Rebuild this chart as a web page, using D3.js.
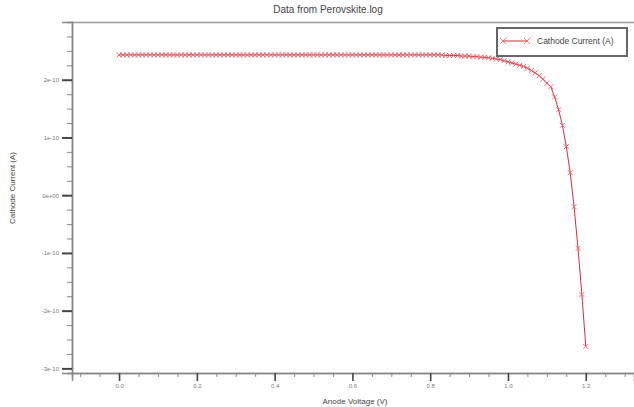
<!DOCTYPE html>
<html>
<head>
<meta charset="utf-8">
<script src="https://cdn.jsdelivr.net/npm/d3@7"></script>
<style>
  body { margin: 0; background: #fff; }
  svg { display: block; font-family: "Liberation Sans Narrow", "Liberation Sans", Arial, sans-serif; }
  .tick-label { fill: #777; font-size: 6px; }
  .label { fill: #444; }
</style>
</head>
<body>
<svg></svg>
<script>
//anode voltage sweep (V)
var voltages = [
  0.00, 0.01, 0.02, 0.03, 0.04, 0.05, 0.06, 0.07, 0.08, 0.09,
  0.10, 0.11, 0.12, 0.13, 0.14, 0.15, 0.16, 0.17, 0.18, 0.19,
  0.20, 0.21, 0.22, 0.23, 0.24, 0.25, 0.26, 0.27, 0.28, 0.29,
  0.30, 0.31, 0.32, 0.33, 0.34, 0.35, 0.36, 0.37, 0.38, 0.39,
  0.40, 0.41, 0.42, 0.43, 0.44, 0.45, 0.46, 0.47, 0.48, 0.49,
  0.50, 0.51, 0.52, 0.53, 0.54, 0.55, 0.56, 0.57, 0.58, 0.59,
  0.60, 0.61, 0.62, 0.63, 0.64, 0.65, 0.66, 0.67, 0.68, 0.69,
  0.70, 0.71, 0.72, 0.73, 0.74, 0.75, 0.76, 0.77, 0.78, 0.79,
  0.80, 0.81, 0.82, 0.83, 0.84, 0.85, 0.86, 0.87, 0.88, 0.89,
  0.90, 0.91, 0.92, 0.93, 0.94, 0.95, 0.96, 0.97, 0.98, 0.99,
  1.00, 1.01, 1.02, 1.03, 1.04, 1.05, 1.06, 1.07, 1.08, 1.09,
  1.10, 1.11, 1.12, 1.13, 1.14, 1.15, 1.16, 1.17, 1.18, 1.19,
  1.20
];

//cathode current, in units of 1e-10 A
var currents = [
  2.43, 2.43, 2.43, 2.43, 2.43, 2.43, 2.43, 2.43, 2.43, 2.43,
  2.43, 2.43, 2.43, 2.43, 2.43, 2.43, 2.43, 2.43, 2.43, 2.43,
  2.43, 2.43, 2.43, 2.43, 2.43, 2.43, 2.43, 2.43, 2.43, 2.43,
  2.43, 2.43, 2.43, 2.43, 2.43, 2.43, 2.43, 2.43, 2.43, 2.43,
  2.43, 2.43, 2.43, 2.43, 2.43, 2.43, 2.43, 2.43, 2.43, 2.43,
  2.43, 2.43, 2.43, 2.43, 2.43, 2.43, 2.43, 2.43, 2.43, 2.43,
  2.43, 2.43, 2.43, 2.43, 2.43, 2.43, 2.43, 2.43, 2.43, 2.43,
  2.43, 2.43, 2.43, 2.43, 2.43, 2.43, 2.43, 2.43, 2.43, 2.43,
  2.43, 2.43, 2.43, 2.43, 2.42, 2.42, 2.42, 2.42, 2.41, 2.41,
  2.41, 2.40, 2.40, 2.39, 2.39, 2.38, 2.37, 2.36, 2.35, 2.33,
  2.31, 2.29, 2.27, 2.25, 2.23, 2.20, 2.16, 2.12, 2.07, 2.01,
  1.94, 1.88, 1.70, 1.48, 1.21, 0.84, 0.39, -0.20, -0.92, -1.72,
  -2.62
];

var xTicks = [0.0, 0.2, 0.4, 0.6, 0.8, 1.0, 1.2];
var xTickLabels = ["0.0", "0.2", "0.4", "0.6", "0.8", "1.0", "1.2"];
var yTicks = [-3, -2, -1, 0, 1, 2];
var yTickLabels = ["-3e-10", "-2e-10", "-1e-10", "0e+00", "1e-10", "2e-10"];

var chartTitle = "Data from Perovskite.log";
var xTitle = "Anode Voltage (V)";
var yTitle = "Cathode Current (A)";
var seriesName = "Cathode Current (A)";

var makeTranslateString = function (x, y) {
  return "translate(" + x + "," + y + ")";
};

//little "x" marker centered on 0,0
var crossPath = function (s) {
  return "M" + -s + "," + -s + "L" + s + "," + s + "M" + -s + "," + s + "L" + s + "," + -s;
};

var initGraph = function () {
  var screen = { width: 634, height: 407 };
  var margins = { left: 72, right: 0, top: 22, bottom: 34 };
  var graph = {
    width: screen.width - margins.left - margins.right,
    height: screen.height - margins.top - margins.bottom
  };

  var svg = d3.select("svg").attr("width", screen.width).attr("height", screen.height);

  var xScale = d3.scaleLinear().domain([-0.121, 1.324]).range([0, graph.width]);
  var yScale = d3.scaleLinear().domain([-3.08, 3.0]).range([graph.height, 0]);

  var plot = svg.append("g").attr("transform", makeTranslateString(margins.left, margins.top));

  //frame: top border line
  plot.append("line")
    .attr("x1", 0).attr("x2", graph.width)
    .attr("y1", 0.5).attr("y2", 0.5)
    .attr("stroke", "#999").attr("stroke-width", 1.5);

  //x axis: minor ticks every 0.05, major every 0.2
  var xMinor = d3.axisBottom(xScale)
    .tickValues(d3.range(-0.1, 1.32, 0.05).filter(function (v) {
      return Math.abs(Math.round(v * 5) - v * 5) > 0.01;
    }))
    .tickSize(4).tickFormat("");
  var xMajor = d3.axisBottom(xScale)
    .tickValues(xTicks).tickSize(8).tickPadding(3)
    .tickFormat(function (d, i) { return xTickLabels[i]; });

  var xg = plot.append("g").attr("transform", makeTranslateString(0, graph.height));
  xg.append("g").call(xMinor);
  xg.append("g").attr("class", "major").call(xMajor);
  xg.selectAll(".domain").attr("stroke", "#888").attr("stroke-width", 1.5);
  xg.selectAll("g").selectAll(".tick line").attr("stroke", "#888");
  xg.select(".major").selectAll(".tick line").attr("stroke", "#444").attr("stroke-width", 1.6);
  xg.selectAll(".tick text").attr("class", "tick-label").style("font-size", "6px").attr("fill", "#777");

  //y axis: minor every 0.25e-10, major every 1e-10
  var yMinorVals = d3.range(-3, 3.01, 0.25).filter(function (v) {
    return Math.abs(v - Math.round(v)) > 0.01;
  });
  var yMinor = d3.axisLeft(yScale).tickValues(yMinorVals).tickSize(5).tickFormat("");
  var yMajor = d3.axisLeft(yScale)
    .tickValues(yTicks).tickSize(10).tickPadding(3)
    .tickFormat(function (d, i) { return yTickLabels[i]; });

  var yg = plot.append("g");
  yg.append("g").call(yMinor);
  yg.append("g").attr("class", "major").call(yMajor);
  yg.selectAll(".domain").attr("stroke", "#888").attr("stroke-width", 1.5);
  yg.selectAll("g").selectAll(".tick line").attr("stroke", "#888");
  yg.select(".major").selectAll(".tick line").attr("stroke", "#444").attr("stroke-width", 2);
  yg.selectAll(".tick text").attr("class", "tick-label").style("font-size", "6px").attr("fill", "#777");

  //the series
  var points = voltages.map(function (v, i) {
    return { v: v, c: currents[i] };
  });

  var line = d3.line()
    .x(function (p) { return xScale(p.v); })
    .y(function (p) { return yScale(p.c); });

  plot.append("path")
    .datum(points)
    .attr("fill", "none")
    .attr("stroke", "#d6303a")
    .attr("stroke-width", 1)
    .attr("d", line);

  plot.append("g")
    .selectAll("path")
    .data(points)
    .enter()
    .append("path")
    .attr("transform", function (p) {
      return makeTranslateString(xScale(p.v), yScale(p.c));
    })
    .attr("d", crossPath(2.5))
    .attr("stroke", "#ec5a64")
    .attr("stroke-width", 0.9)
    .attr("fill", "none");

  //labels
  svg.append("text").attr("class", "label")
    .attr("x", 328).attr("y", 13)
    .attr("text-anchor", "middle")
    .style("font-size", "10px")
    .text(chartTitle);

  svg.append("text").attr("class", "label")
    .attr("x", 355).attr("y", 404)
    .attr("text-anchor", "middle")
    .style("font-size", "8px")
    .text(xTitle);

  svg.append("text").attr("class", "label")
    .attr("transform", "translate(15,188) rotate(-90)")
    .attr("text-anchor", "middle")
    .style("font-size", "8px")
    .text(yTitle);

  //legend
  var legend = svg.append("g").attr("transform", makeTranslateString(497, 28));
  legend.append("rect")
    .attr("width", 130).attr("height", 28)
    .attr("fill", "#fff")
    .attr("stroke", "#666").attr("stroke-width", 2);
  legend.append("line")
    .attr("x1", 6).attr("x2", 30).attr("y1", 13).attr("y2", 13)
    .attr("stroke", "#d6303a").attr("stroke-width", 1);
  legend.selectAll("path.mark")
    .data([6, 30])
    .enter()
    .append("path")
    .attr("class", "mark")
    .attr("transform", function (x) { return makeTranslateString(x, 13); })
    .attr("d", crossPath(3))
    .attr("stroke", "#ec5a64").attr("stroke-width", 0.8);
  legend.append("text").attr("class", "label")
    .attr("x", 40).attr("y", 15.5)
    .style("font-size", "8.5px")
    .text(seriesName);
};

initGraph();
</script>
</body>
</html>
